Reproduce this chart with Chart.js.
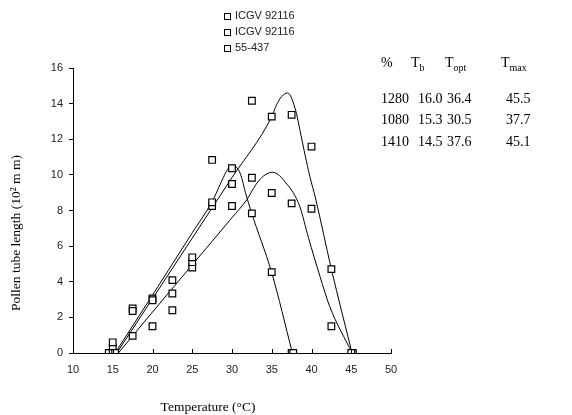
<!DOCTYPE html>
<html>
<head>
<meta charset="utf-8">
<script src="https://cdn.jsdelivr.net/npm/chart.js@4/dist/chart.umd.min.js"></script>
<style>
  html, body { margin: 0; padding: 0; background: #fff; }
  #wrap { position: relative; width: 572px; height: 415px; overflow: hidden; }
  #c { position: absolute; left: 0; top: 0; }
  .legend { position: absolute; left: 224px; top: 7px; font: 11px "Liberation Sans", Arial, sans-serif; color: #222; }
  .legend div { height: 16px; line-height: 16px; white-space: nowrap; }
  .legend i { display: inline-block; width: 5px; height: 5px; border: 1px solid #000; margin-right: 4px; vertical-align: -1px; }
  .cell { position: absolute; font: 14px "Liberation Serif", "Times New Roman", serif; color: #000; line-height: 14px; white-space: nowrap; }
  .cell sub { font-size: 10px; vertical-align: -4px; line-height: 0; }
</style>
</head>
<body>
<div id="wrap">
  <canvas id="c" width="572" height="415"></canvas>
  <div class="legend" id="legend"></div>
  <div id="table"></div>
</div>
<script>
// Series names
const seriesLabels = ['ICGV 92116', 'ICGV 92116', '55-437'];

// Observed pollen tube length (10^2 mm) vs temperature (°C)
const tempA = [15, 15.3, 17.5, 20, 22.5, 25, 27.5, 30, 32.5, 35, 37.5, 40, 42.5, 45];
const lenA  = [0.6, 0, 2.36, 2.96, 4.09, 5.37, 10.84, 9.49, 14.16, 13.27, 13.37, 11.59, 4.71, 0];

const tempB = [15, 15, 17.5, 20, 22.5, 25, 27.5, 30, 32.5, 35, 37.5, 37.7];
const lenB  = [0.3, 0, 2.5, 3.06, 3.34, 5.1, 8.46, 10.37, 7.84, 4.54, 0, 0];

const tempC = [14.5, 17.5, 20, 22.5, 25, 27.5, 30, 32.5, 35, 37.5, 40, 42.5, 45.2];
const lenC  = [0, 0.96, 1.5, 2.4, 4.8, 8.25, 8.25, 9.84, 8.98, 8.4, 8.1, 1.5, 0];

// Fitted response curves
const fitTempA = [15.5, 20, 25, 30, 35, 35.6, 36.25, 37, 37.5, 38.1, 38.55, 39.2, 39.8, 40.5, 42.5, 45.1];
const fitLenA  = [0, 3.05, 6.45, 9.85, 13.27, 13.93, 14.4, 14.6, 14.3, 13.46, 12.5, 11.1, 9.9, 8.7, 4.71, 0];

const fitTempB = [15.3, 20, 25, 27.5, 28.5, 29.3, 29.9, 30.5, 31.1, 31.7, 32.4, 35, 37.6];
const fitLenB  = [0, 3.25, 6.75, 8.5, 9.45, 10.2, 10.5, 10.45, 10.0, 9.0, 7.95, 4.5, 0];

const fitTempC = [15.7, 20, 25, 30, 31.85, 33, 34, 35.1, 36, 36.5, 37.7, 38.55, 39.6, 41.07, 42.3, 45.1];
const fitLenC  = [0, 2.3, 4.95, 7.6, 8.6, 9.45, 9.95, 10.15, 9.95, 9.7, 9.0, 8.2, 6.5, 4.3, 2.6, 0];

// Cardinal temperatures table
const tablePct  = ['1280', '1080', '1410'];
const tableTb   = ['16.0', '15.3', '14.5'];
const tableTopt = ['36.4', '30.5', '37.6'];
const tableTmax = ['45.5', '37.7', '45.1'];

// Axis ranges and tick steps
const xMin = 10, xMax = 50, xStep = 5;
const yMin = 0, yMax = 16, yStep = 2;

const toXY = (xs, ys) => xs.map((x, i) => ({ x: x, y: ys[i] }));

const pointSet = (label, xs, ys) => ({
  label: label,
  data: toXY(xs, ys),
  showLine: false,
  pointStyle: 'rect',
  pointRadius: 4.7,
  pointBorderWidth: 1.2,
  pointBorderColor: '#000',
  pointBackgroundColor: '#fff'
});

const curveSet = (xs, ys) => ({
  label: '',
  data: toXY(xs, ys),
  showLine: true,
  pointRadius: 0,
  borderColor: '#000',
  borderWidth: 1,
  cubicInterpolationMode: 'monotone',
  fill: false
});

const axisFont = { family: '"Liberation Sans", Arial, sans-serif', size: 11 };

// Axis titles placed beside the plot, plus inward tick marks on the x axis
const decorations = {
  id: 'decorations',
  afterDraw(chart) {
    const ctx = chart.ctx;
    const xs = chart.scales.x;
    const area = chart.chartArea;
    ctx.save();
    ctx.strokeStyle = '#000';
    ctx.lineWidth = 1;
    xs.ticks.forEach(t => {
      const px = Math.round(xs.getPixelForValue(t.value)) + 0.5;
      ctx.beginPath();
      ctx.moveTo(px, area.bottom);
      ctx.lineTo(px, area.bottom - 4);
      ctx.stroke();
    });
    ctx.fillStyle = '#000';
    ctx.font = '13.5px "Liberation Serif", "Times New Roman", serif';
    ctx.textAlign = 'center';
    ctx.textBaseline = 'middle';
    ctx.fillText('Temperature (°C)', 208, 407);
    ctx.translate(16, 233);
    ctx.rotate(-Math.PI / 2);
    ctx.fillText('Pollen tube length (10² m m)', 0, 0);
    ctx.restore();
  }
};

new Chart(document.getElementById('c'), {
  type: 'scatter',
  data: {
    datasets: [
      pointSet(seriesLabels[0], tempA, lenA),
      pointSet(seriesLabels[1], tempB, lenB),
      pointSet(seriesLabels[2], tempC, lenC),
      curveSet(fitTempA, fitLenA),
      curveSet(fitTempB, fitLenB),
      curveSet(fitTempC, fitLenC)
    ]
  },
  options: {
    responsive: false,
    animation: false,
    layout: { padding: { left: 0, top: 68, right: 181, bottom: 0 } },
    plugins: { legend: { display: false }, tooltip: { enabled: false } },
    scales: {
      x: {
        type: 'linear', min: xMin, max: xMax,
        grid: { display: false, drawTicks: false },
        border: { display: true, color: '#000', width: 1 },
        ticks: { stepSize: xStep, padding: 10, color: '#222', font: axisFont, maxRotation: 0 },
        afterFit(scale) { scale.height = 62; }
      },
      y: {
        type: 'linear', min: yMin, max: yMax,
        grid: { display: true, drawOnChartArea: false, drawTicks: true, tickLength: 4, color: '#000' },
        border: { display: true, color: '#000', width: 1 },
        ticks: { stepSize: yStep, padding: 6, color: '#222', font: axisFont },
        afterFit(scale) { scale.width = 73; }
      }
    }
  },
  plugins: [decorations]
});

// Legend
const legendEl = document.getElementById('legend');
seriesLabels.forEach(name => {
  const row = document.createElement('div');
  row.innerHTML = '<i></i>' + name;
  legendEl.appendChild(row);
});

// Cardinal temperature table
const tableEl = document.getElementById('table');
function cell(html, left, top) {
  const d = document.createElement('div');
  d.className = 'cell';
  d.style.left = left + 'px';
  d.style.top = top + 'px';
  d.innerHTML = html;
  tableEl.appendChild(d);
}
cell('%', 381, 56);
cell('T<sub>b</sub>', 411, 56);
cell('T<sub>opt</sub>', 445, 56);
cell('T<sub>max</sub>', 501, 56);
const rowTops = [92, 113, 135];
tablePct.forEach((p, i) => {
  cell(p, 381, rowTops[i]);
  cell(tableTb[i], 418, rowTops[i]);
  cell(tableTopt[i], 447, rowTops[i]);
  cell(tableTmax[i], 506, rowTops[i]);
});
</script>
</body>
</html>
